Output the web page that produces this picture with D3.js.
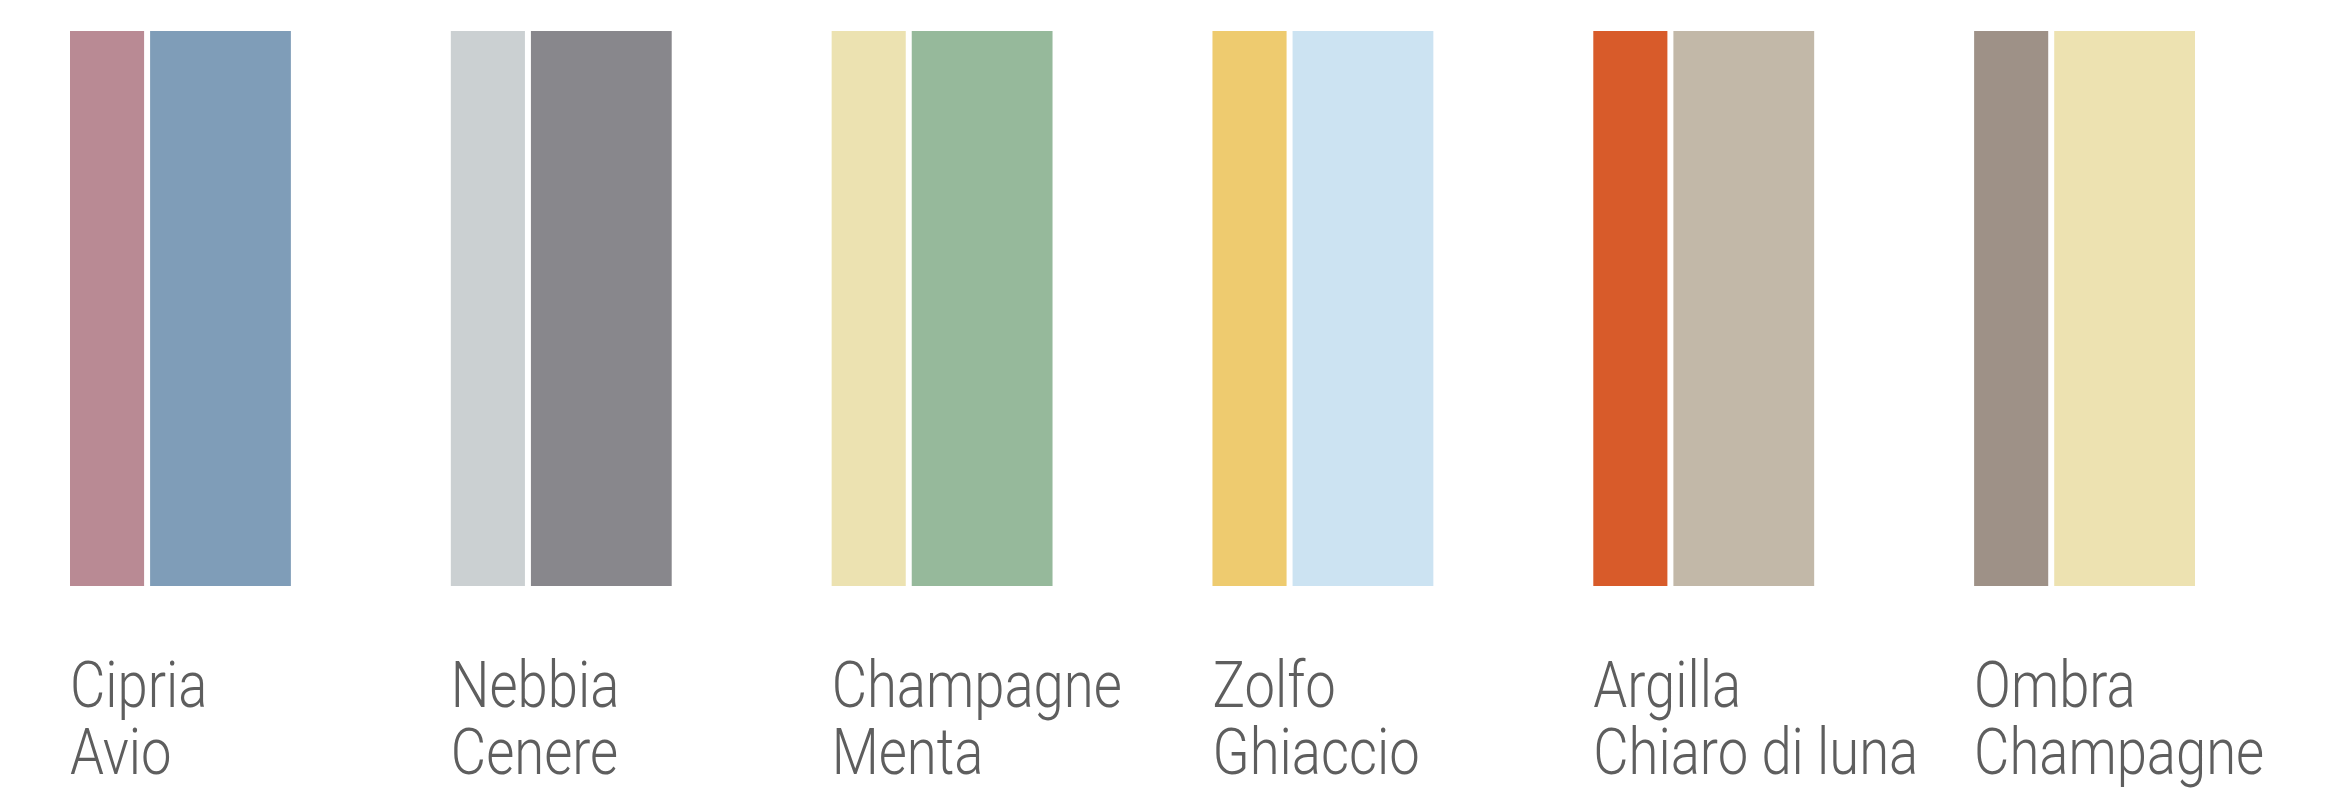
<!DOCTYPE html>
<html><head><meta charset="utf-8">
<script src="https://cdn.jsdelivr.net/npm/d3@7"></script>
<style>html,body{margin:0;padding:0;background:#fff;}svg{display:block;}</style>
</head><body>
<svg id="chart" width="2338" height="790"></svg>
<script>
// Data
const groups = ["g1","g2","g3","g4","g5","g6"];
const firstNames = ["Cipria","Nebbia","Champagne","Zolfo","Argilla","Ombra"];
const secondNames = ["Avio","Cenere","Menta","Ghiaccio","Chiaro di luna","Champagne"];
const firstColors = ["#b98a94","#cbd0d2","#ece2b1","#eecb6f","#d85b2a","#9e9187"];
const secondColors = ["#7f9db8","#88878c","#96b99b","#cce3f2","#c2b8a8","#ede2b1"];
const shareFirst = [1,1,1,1,1,1];     // relative width of first swatch
const shareSecond = [1.9,1.9,1.9,1.9,1.9,1.9]; // relative width of second swatch
const swatchValue = [1,1,1,1,1,1];   // full height

const svg = d3.select("#chart");
const x = d3.scaleBand().domain(groups).range([70, 2195]).paddingInner(0.42).paddingOuter(0);
const y = d3.scaleLinear().domain([0,1]).range([586, 31]);
const gap = 6;

const g = svg.selectAll("g.sw").data(groups).join("g").attr("class","sw")
  .attr("transform", d => `translate(${x(d)},0)`);

g.each(function(d,i){
  const bw = x.bandwidth();
  const inner = d3.scaleLinear().domain([0, shareFirst[i]+shareSecond[i]]).range([0, bw-gap]);
  const sel = d3.select(this);
  sel.append("rect").attr("x",0).attr("y",y(swatchValue[i]))
    .attr("width",inner(shareFirst[i])).attr("height",y(0)-y(swatchValue[i]))
    .attr("fill",firstColors[i]);
  sel.append("rect").attr("x",inner(shareFirst[i])+gap).attr("y",y(swatchValue[i]))
    .attr("width",inner(shareSecond[i])).attr("height",y(0)-y(swatchValue[i]))
    .attr("fill",secondColors[i]);
  sel.append("text").attr("x",0).attr("y",707).text(firstNames[i]);
  sel.append("text").attr("x",0).attr("y",774).text(secondNames[i]);
});
svg.selectAll("text")
  .attr("font-family","Roboto, 'DejaVu Sans', sans-serif")
  .attr("font-weight",300)
  .attr("font-size",64)
  .attr("fill","#5e5e5e")
  .attr("transform-origin", function(){ return this.getAttribute("x")+"px 0px"; })
  .style("transform","scaleX(0.85)");
</script>
</body></html>
